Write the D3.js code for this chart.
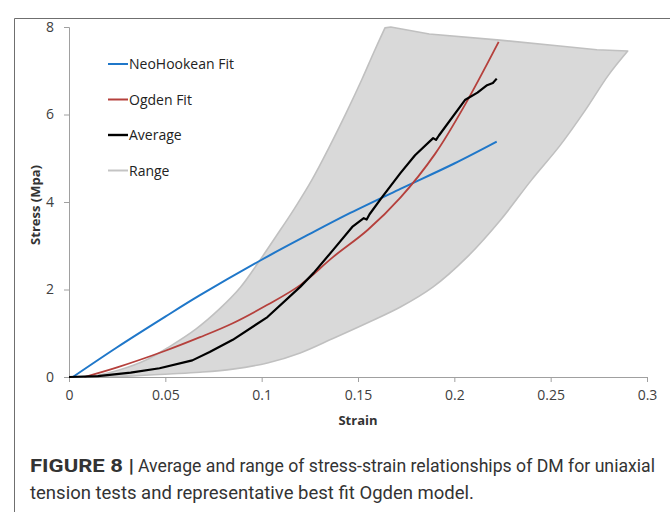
<!DOCTYPE html>
<html lang="en">
<head>
  <meta charset="utf-8">
  <title>Stress-strain of DM</title>
  <script src="https://d3js.org/d3.v7.min.js"></script>
  <style>
    body { margin: 0; background: #fff; }
    svg text { font-family: "Open Sans", "Liberation Sans", sans-serif; }
    .tick text { fill: #404040; font-size: 14px; }
    .caption { font-family: "Liberation Sans Narrow", "Roboto", sans-serif; fill: #333; font-size: 17.5px; }
  </style>
</head>
<body>
<svg width="670" height="512"></svg>
<script>

// strain ticks and stress ticks
var strainTicks = [0, 0.05, 0.1, 0.15, 0.2, 0.25, 0.3];
var stressTicks = [0, 2, 4, 6, 8];

// fitted curves, [strain, stress]
var neoHookean = [[0.002, 0], [0.025, 0.68], [0.05, 1.38], [0.068, 1.87], [0.1, 2.68], [0.125, 3.27],
                  [0.146, 3.75], [0.172, 4.30], [0.2, 4.88], [0.222, 5.38]];
var ogden = [[0.008, 0], [0.025, 0.22], [0.05, 0.6], [0.068, 0.91], [0.085, 1.23], [0.103, 1.65],
             [0.12, 2.1], [0.137, 2.74], [0.155, 3.36], [0.172, 4.1], [0.19, 5.1], [0.2055, 6.22], [0.223, 7.66]];

// average of the tests
var average = [[0.0, 0], [0.015, 0.02], [0.032, 0.1], [0.047, 0.2], [0.064, 0.38], [0.073, 0.57], [0.085, 0.85],
               [0.103, 1.37], [0.12, 2.06], [0.127, 2.38], [0.137, 2.9], [0.147, 3.43], [0.153, 3.63],
               [0.1545, 3.6], [0.156, 3.72], [0.1625, 4.11], [0.172, 4.66], [0.1796, 5.07], [0.189, 5.46],
               [0.1905, 5.42], [0.192, 5.52], [0.2055, 6.33], [0.212, 6.5], [0.217, 6.67], [0.22, 6.72], [0.222, 6.82]];

// envelope of all tests: rising left edge, top edge, falling right edge
var rangeLeft = [[0.011, 0], [0.026, 0.16], [0.04, 0.39], [0.052, 0.69], [0.066, 1.1], [0.078, 1.55],
                 [0.089, 2.05], [0.098, 2.6], [0.108, 3.25], [0.117, 3.85], [0.126, 4.5], [0.135, 5.25],
                 [0.144, 6.05], [0.152, 6.8], [0.158, 7.4], [0.164, 7.98]];
var rangeTop = [[0.164, 7.98], [0.167, 8.0], [0.187, 7.84], [0.2237, 7.7], [0.256, 7.56], [0.274, 7.48], [0.29, 7.45]];
var rangeRight = [[0.29, 7.45], [0.28, 6.9], [0.268, 6.1], [0.255, 5.3], [0.24, 4.5], [0.224, 3.59],
                  [0.2066, 2.74], [0.189, 2.06], [0.172, 1.6], [0.155, 1.24], [0.137, 0.88],
                  [0.12, 0.55], [0.103, 0.32], [0.085, 0.18], [0.068, 0.11], [0.052, 0.07], [0.03, 0.02], [0.011, 0]];

var legendNames = ["NeoHookean Fit", "Ogden Fit", "Average", "Range"];
var legendColors = ["#1f77c9", "#b5403c", "#000000", "#c4c4c4"];

var svg = d3.select("svg");

// outer frame of the figure
svg.append("path")
    .attr("d", "M14.5,512 V18.5 H670")
    .attr("fill", "none")
    .attr("stroke", "#6f6f6f");

var x = d3.scaleLinear().domain([0, 0.3]).range([69, 647]);
var y = d3.scaleLinear().domain([0, 8]).range([377, 27]);

var line = d3.line()
    .x(function(d) { return x(d[0]); })
    .y(function(d) { return y(d[1]); });
var smooth = d3.line()
    .x(function(d) { return x(d[0]); })
    .y(function(d) { return y(d[1]); })
    .curve(d3.curveCatmullRom);

// range band, each edge drawn on its own so the corners stay sharp
var band = smooth(rangeLeft) + line(rangeTop).replace(/^M/, "L") + smooth(rangeRight).replace(/^M/, "L") + "Z";
svg.append("path")
    .attr("d", band)
    .attr("fill", "#d9d9d9")
    .attr("stroke", "#c0c0c0")
    .attr("stroke-width", 1.6)
    .attr("stroke-linejoin", "round");

// axes
svg.append("g")
    .attr("class", "axis")
    .attr("transform", "translate(0,377)")
    .call(d3.axisBottom(x).tickValues(strainTicks).tickSize(5).tickPadding(8)
      .tickFormat(function(d) { return d === 0 ? "0" : String(+d.toFixed(2)); }));

svg.append("g")
    .attr("class", "axis")
    .attr("transform", "translate(69,0)")
    .call(d3.axisLeft(y).tickValues(stressTicks).tickSize(5).tickPadding(10));

svg.selectAll(".axis path, .axis line").attr("stroke", "#a0a0a0");
svg.selectAll(".axis .tick text").attr("font-size", null);

svg.append("text")
    .attr("x", 358).attr("y", 425)
    .attr("text-anchor", "middle")
    .attr("font-weight", "bold")
    .attr("font-size", 13)
    .attr("fill", "#333")
    .text("Strain");

svg.append("text")
    .attr("transform", "translate(40,205) rotate(-90)")
    .attr("text-anchor", "middle")
    .attr("font-weight", "bold")
    .attr("font-size", 13)
    .attr("fill", "#333")
    .text("Stress (Mpa)");

// curves
svg.append("path").attr("d", smooth(neoHookean))
    .attr("fill", "none").attr("stroke", legendColors[0]).attr("stroke-width", 2);
svg.append("path").attr("d", smooth(ogden))
    .attr("fill", "none").attr("stroke", legendColors[1]).attr("stroke-width", 1.8);
svg.append("path").attr("d", line(average))
    .attr("fill", "none").attr("stroke", legendColors[2]).attr("stroke-width", 2.2)
    .attr("stroke-linejoin", "round");

// legend
var legend = svg.selectAll(".legend")
    .data(legendNames)
    .enter().append("g")
      .attr("class", "legend")
      .attr("transform", function(d, i) { return "translate(108," + (64 + i * 35.5) + ")"; });

legend.append("line")
    .attr("x1", 0).attr("x2", 20)
    .attr("stroke", function(d, i) { return legendColors[i]; })
    .attr("stroke-width", function(d, i) { return i == 2 ? 2.4 : 2; });

legend.append("text")
    .attr("x", 21).attr("y", 5)
    .attr("font-size", 14)
    .attr("fill", "#222")
    .text(function(d) { return d; });

// figure caption
var cap = svg.append("g");
cap.append("text").attr("class", "caption")
    .attr("x", 30).attr("y", 472)
    .attr("font-weight", "bold")
    .attr("textLength", 104).attr("lengthAdjust", "spacingAndGlyphs")
    .text("FIGURE 8 |");
cap.append("text").attr("class", "caption")
    .attr("x", 138).attr("y", 472)
    .attr("textLength", 517).attr("lengthAdjust", "spacingAndGlyphs")
    .text("Average and range of stress-strain relationships of DM for uniaxial");
cap.append("text").attr("class", "caption")
    .attr("x", 30).attr("y", 499)
    .attr("textLength", 444).attr("lengthAdjust", "spacingAndGlyphs")
    .text("tension tests and representative best fit Ogden model.");

</script>
</body>
</html>
